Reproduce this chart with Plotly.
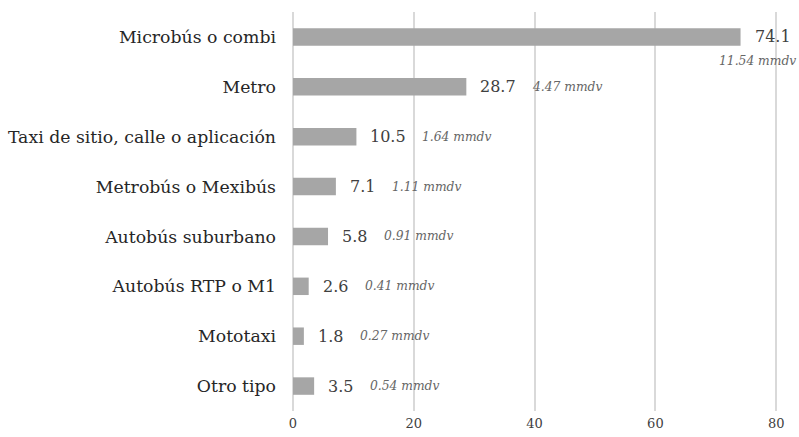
import plotly.graph_objects as go

categorias = [
    "Microbús o combi", "Metro", "Taxi de sitio, calle o aplicación",
    "Metrobús o Mexibús", "Autobús suburbano", "Autobús RTP o M1",
    "Mototaxi", "Otro tipo",
]
valores = [74.1, 28.7, 10.5, 7.1, 5.8, 2.6, 1.8, 3.5]
mmdv = ["11.54", "4.47", "1.64", "1.11", "0.91", "0.41", "0.27", "0.54"]
ticks_x = [0, 20, 40, 60, 80]

FUENTE = "DejaVu Serif"

fig = go.Figure(go.Bar(
    y=categorias, x=valores, orientation="h",
    marker=dict(color="#a6a6a6", line=dict(width=0)),
    width=0.35, hoverinfo="x+y",
))

anots = []
for cat, v, m in zip(categorias, valores, mmdv):
    etiqueta = f"{v:.1f}"
    anots.append(dict(x=v, y=cat, text=etiqueta, showarrow=False,
                      xanchor="left", xshift=12,
                      font=dict(family=FUENTE, size=16, color="#404040")))
    if v > 60:
        # la barra más larga lleva el dato debajo
        anots.append(dict(x=v, y=cat, text=f"<i>{m} mmdv</i>", showarrow=False,
                          xanchor="center", xshift=17, yshift=-24,
                          font=dict(family=FUENTE, size=12.3, color="#666666")))
    else:
        desp = 12 + len(etiqueta) * 10 + 12
        anots.append(dict(x=v, y=cat, text=f"<i>{m} mmdv</i>", showarrow=False,
                          xanchor="left", xshift=desp,
                          font=dict(family=FUENTE, size=12.3, color="#666666")))

fig.update_layout(
    width=799, height=437,
    margin=dict(l=293, r=21, t=12, b=26),
    plot_bgcolor="white", paper_bgcolor="white",
    font=dict(family=FUENTE),
    showlegend=False,
    annotations=anots,
)
fig.update_xaxes(
    range=[0, 80.3], tickvals=ticks_x, showgrid=True, gridcolor="#d9d9d9",
    gridwidth=1.5, zeroline=True, zerolinecolor="#d9d9d9", zerolinewidth=1.5,
    tickfont=dict(family=FUENTE, size=13, color="#404040"), ticks="",
    ticklabelstandoff=3, showline=False, automargin=False,
)
fig.update_yaxes(
    range=[len(categorias) - 0.5, -0.5], showgrid=False, ticks="",
    ticklabelstandoff=16, automargin=False,
    tickfont=dict(family=FUENTE, size=17.3, color="#262626"),
)

fig.write_html("out.html", config={"displayModeBar": False},
               post_script="document.body.style.margin='0';")
